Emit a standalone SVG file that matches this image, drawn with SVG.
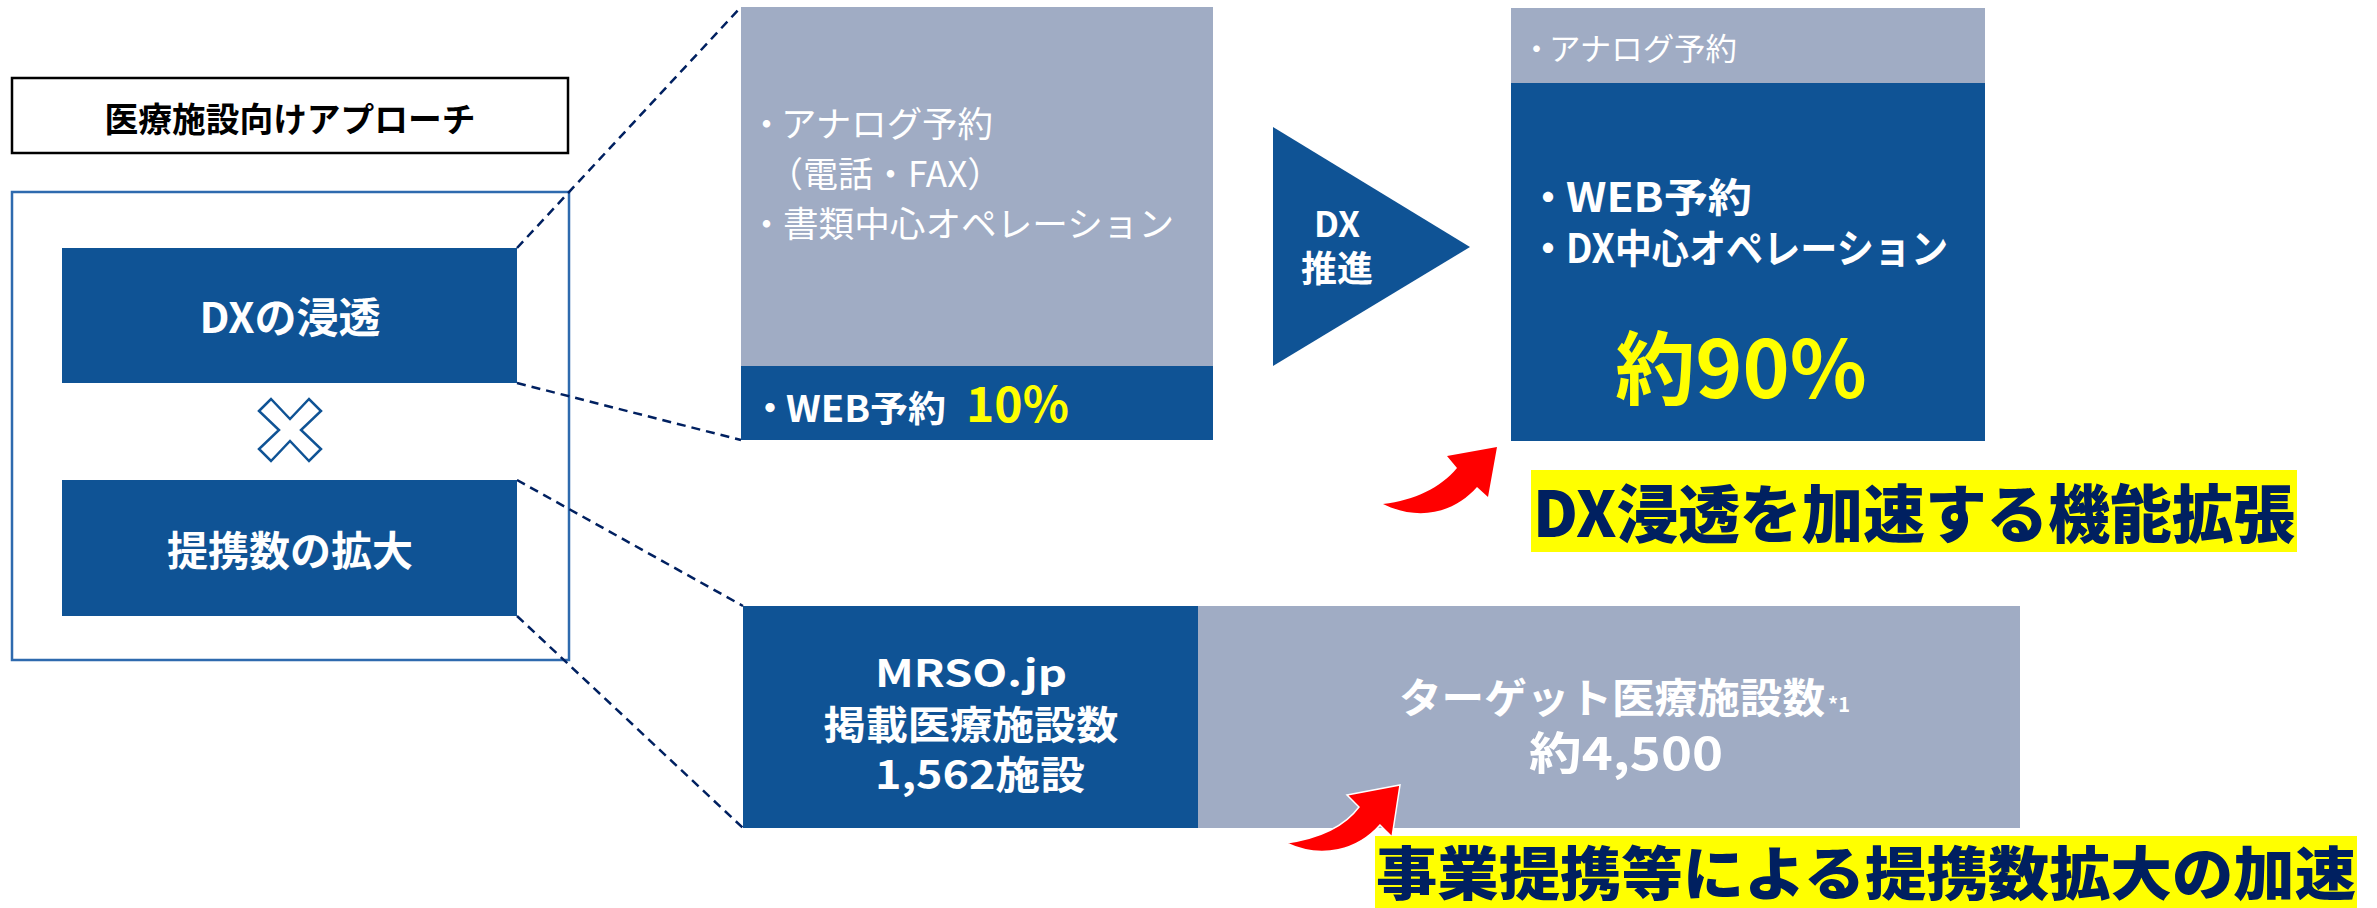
<svg xmlns="http://www.w3.org/2000/svg" width="2377" height="908" viewBox="0 0 2377 908">
<style>
.t{font-family:"Noto Sans CJK JP","Noto Sans",sans-serif;}
.b{font-weight:700;}
.w{fill:#FFFFFF;}
.blue{fill:#0F5395;}
.gray{fill:#A0ACC4;}
.dash{fill:none;stroke:#002060;stroke-width:2.5;stroke-dasharray:9 6;}
.hl{font-weight:900;fill:#002060;}
.red{fill:#FF0000;}
</style>
<rect x="0" y="0" width="2377" height="908" fill="#FFFFFF"/>

<g id="title">
<rect x="12" y="78" width="556" height="75" fill="#FFFFFF" stroke="#000000" stroke-width="2.5"/>
<text class="t b" x="290" y="132" font-size="34" text-anchor="middle" fill="#000000" textLength="371" lengthAdjust="spacingAndGlyphs">医療施設向けアプローチ</text>
</g>

<g id="frame">
<rect x="12" y="192" width="557" height="468" fill="#FFFFFF" stroke="#2E6AAE" stroke-width="2.5"/>
</g>

<g id="connectors">
<line class="dash" x1="517" y1="248" x2="741" y2="7"/>
<line class="dash" x1="517" y1="383" x2="741" y2="440"/>
<line class="dash" x1="517" y1="480" x2="743" y2="606"/>
<line class="dash" x1="517" y1="616" x2="743" y2="828"/>
<path id="arrow1" class="red" d="M1383,504 C1415,500 1440,488 1457,468 L1447,456 L1497,447 L1488,497 L1477,487 C1455,512 1420,522 1383,504 Z"/>
</g>

<g id="dx-box">
<rect class="blue" x="62" y="248" width="455" height="135"/>
<text class="t b w" x="290" y="333" font-size="42" text-anchor="middle">DXの浸透</text>
</g>

<g id="cross">
<polygon points="259,411 271,399 290,419 309,399 321,411 301,430 321,449 309,461 290,441 271,461 259,449 279,430" fill="#FFFFFF" stroke="#0F5395" stroke-width="2.5" stroke-linejoin="miter"/>
</g>

<g id="teikei-box">
<rect class="blue" x="62" y="480" width="455" height="136"/>
<text class="t b w" x="290" y="566" font-size="41" text-anchor="middle">提携数の拡大</text>
</g>

<g id="current-state">
<rect class="gray" x="741" y="7" width="472" height="359"/>
<rect class="blue" x="741" y="366" width="472" height="74"/>
<text class="t w" y="137" font-size="35"><tspan x="749">・</tspan><tspan x="781" textLength="212" lengthAdjust="spacingAndGlyphs">アナログ予約</tspan></text>
<text class="t w" x="768" y="187" font-size="35">（電話・FAX）</text>
<text class="t w" y="237" font-size="35"><tspan x="749">・</tspan><tspan x="783" textLength="391" lengthAdjust="spacingAndGlyphs">書類中心オペレーション</tspan></text>
<text class="t b w" y="422" font-size="36"><tspan x="752">・</tspan><tspan x="786" textLength="160" lengthAdjust="spacingAndGlyphs">WEB予約</tspan></text>
<text class="t b" x="966" y="422" font-size="48" fill="#FFFF00">10%</text>
</g>

<g id="dx-push">
<polygon class="blue" points="1273,127 1273,366 1470,247"/>
<text class="t b w" x="1337" y="237" font-size="35" text-anchor="middle">DX</text>
<text class="t b w" x="1337" y="282" font-size="36" text-anchor="middle">推進</text>
</g>

<g id="future-state">
<rect class="gray" x="1511" y="8" width="474" height="75"/>
<rect class="blue" x="1511" y="83" width="474" height="358"/>
<text class="t w" y="60" font-size="31"><tspan x="1521">・</tspan><tspan x="1549" textLength="188" lengthAdjust="spacingAndGlyphs">アナログ予約</tspan></text>
<text class="t b w" y="212" font-size="40"><tspan x="1528">・</tspan><tspan x="1566" textLength="186" lengthAdjust="spacingAndGlyphs">WEB予約</tspan></text>
<text class="t b w" y="263" font-size="40"><tspan x="1528">・</tspan><tspan x="1566" textLength="382" lengthAdjust="spacingAndGlyphs">DX中心オペレーション</tspan></text>
<text class="t b" x="1741" y="398" font-size="80" text-anchor="middle" fill="#FFFF00">約90%</text>
</g>

<g id="label-dx">
<rect x="1531" y="470" width="766" height="82" fill="#FFFF00"/>
<text class="t hl" x="1533" y="537" font-size="63" textLength="762" lengthAdjust="spacingAndGlyphs">DX浸透を加速する機能拡張</text>
</g>

<g id="mrso">
<rect class="blue" x="743" y="606" width="455" height="222"/>
<text class="t b w" x="971" y="687" font-size="38" text-anchor="middle" textLength="192" lengthAdjust="spacingAndGlyphs">MRSO.jp</text>
<text class="t b w" x="971" y="739" font-size="39" text-anchor="middle" textLength="295" lengthAdjust="spacingAndGlyphs">掲載医療施設数</text>
<text class="t b w" x="980" y="789" font-size="39" text-anchor="middle" textLength="210" lengthAdjust="spacingAndGlyphs">1,562施設</text>
</g>

<g id="target">
<rect class="gray" x="1198" y="606" width="822" height="222"/>
<text class="t b w" x="1399" y="713" font-size="41" textLength="426" lengthAdjust="spacingAndGlyphs">ターゲット医療施設数</text>
<text class="t b w" x="1828" y="712" font-size="20">*1</text>
<text class="t b w" x="1626" y="770" font-size="45" text-anchor="middle" textLength="194" lengthAdjust="spacingAndGlyphs">約4,500</text>
</g>

<g id="arrow2">
<path class="red" d="M1286,843 C1320,838 1345,826 1359,807 L1347,795 L1400,785 L1392,837 L1380,825 C1358,850 1322,860 1286,843 Z" stroke="#FFFFFF" stroke-width="1.5"/>
</g>

<g id="label-teikei">
<rect x="1375" y="836" width="982" height="72" fill="#FFFF00"/>
<text class="t hl" x="1376" y="895" font-size="58" textLength="980" lengthAdjust="spacingAndGlyphs">事業提携等による提携数拡大の加速</text>
</g>
</svg>
